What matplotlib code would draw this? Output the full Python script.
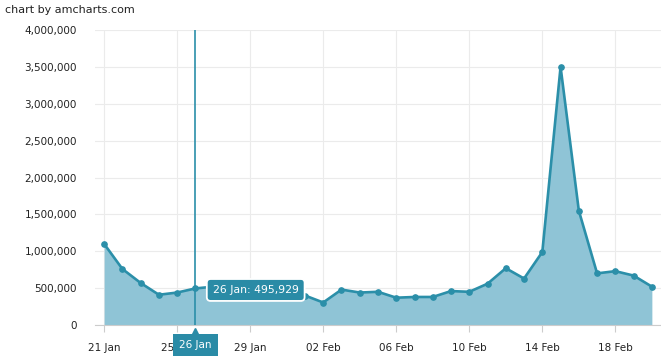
import matplotlib
matplotlib.use("Agg")
import matplotlib.pyplot as plt
import numpy as np

# daily values 21 Jan .. 20 Feb
days = ["21 Jan", "22 Jan", "23 Jan", "24 Jan", "25 Jan", "26 Jan", "27 Jan", "28 Jan",
        "29 Jan", "30 Jan", "31 Jan", "01 Feb", "02 Feb", "03 Feb", "04 Feb", "05 Feb",
        "06 Feb", "07 Feb", "08 Feb", "09 Feb", "10 Feb", "11 Feb", "12 Feb", "13 Feb",
        "14 Feb", "15 Feb", "16 Feb", "17 Feb", "18 Feb", "19 Feb", "20 Feb"]
visits = [1100000, 760000, 570000, 410000, 440000, 495929, 520000, 490000,
          470000, 450000, 420000, 400000, 305000, 480000, 440000, 450000,
          370000, 380000, 380000, 460000, 450000, 560000, 770000, 630000,
          990000, 3500000, 1550000, 700000, 730000, 670000, 520000]
tick_labels = ["21 Jan", "25 Jan", "29 Jan", "02 Feb", "06 Feb", "10 Feb", "14 Feb", "18 Feb"]
yticks = [0, 500000, 1000000, 1500000, 2000000, 2500000, 3000000, 3500000, 4000000]

line_col = "#2b8fa9"
fill_col = "#8fc4d6"
grid_col = "#ebebeb"
text_col = "#222222"
box_col = "#2a8ba6"

x = np.arange(len(days))

fig = plt.figure(figsize=(6.61, 3.59), dpi=100)
ax = fig.add_axes([95 / 661, 34 / 359, 566 / 661, 295 / 359])

ax.fill_between(x, visits, 0, color=fill_col, lw=0, zorder=2)
ax.plot(x, visits, color=line_col, lw=1.9, marker="o", ms=3.8, zorder=3)

ax.set_xlim(-0.5, 30.5)
ax.set_ylim(0, 4000000)

tick_pos = [days.index(t) for t in tick_labels]
ax.set_xticks(tick_pos)
ax.set_xticklabels(tick_labels, fontsize=7.5, color=text_col)
ax.set_yticks(yticks)
ax.set_yticklabels(["{:,}".format(v) for v in yticks], fontsize=7.5, color=text_col)
ax.tick_params(axis="x", length=5, color="#cccccc", pad=8)
ax.tick_params(axis="y", length=0, pad=13)

ax.grid(True, color=grid_col, lw=0.8, zorder=0)
ax.set_axisbelow(True)
for s in ["top", "right", "left"]:
    ax.spines[s].set_visible(False)
ax.spines["bottom"].set_color("#cccccc")

# cursor on 26 Jan
i = days.index("26 Jan")
ax.axvline(i, color=line_col, lw=1.2, zorder=4)
ax.text(i + 0.95, 475000, "26 Jan: {:,}".format(visits[i]),
        fontsize=7.8, color="white", va="center", ha="left", zorder=6,
        bbox=dict(boxstyle="round,pad=0.55,rounding_size=0.35", fc=box_col, ec="white", lw=1.3))
ax.text(i, -0.068, "26 Jan", transform=ax.get_xaxis_transform(), fontsize=7.5, color="white",
        ha="center", va="center", zorder=6, clip_on=False,
        bbox=dict(boxstyle="square,pad=0.6", fc=box_col, ec="none"))
ax.plot([i], [-0.022], marker="^", ms=5, color=box_col, transform=ax.get_xaxis_transform(),
        clip_on=False, zorder=6)

fig.text(5 / 661, 1 - 10 / 359, "chart by amcharts.com", fontsize=8, color=text_col, va="center")

fig.savefig("out.png", dpi=100)
